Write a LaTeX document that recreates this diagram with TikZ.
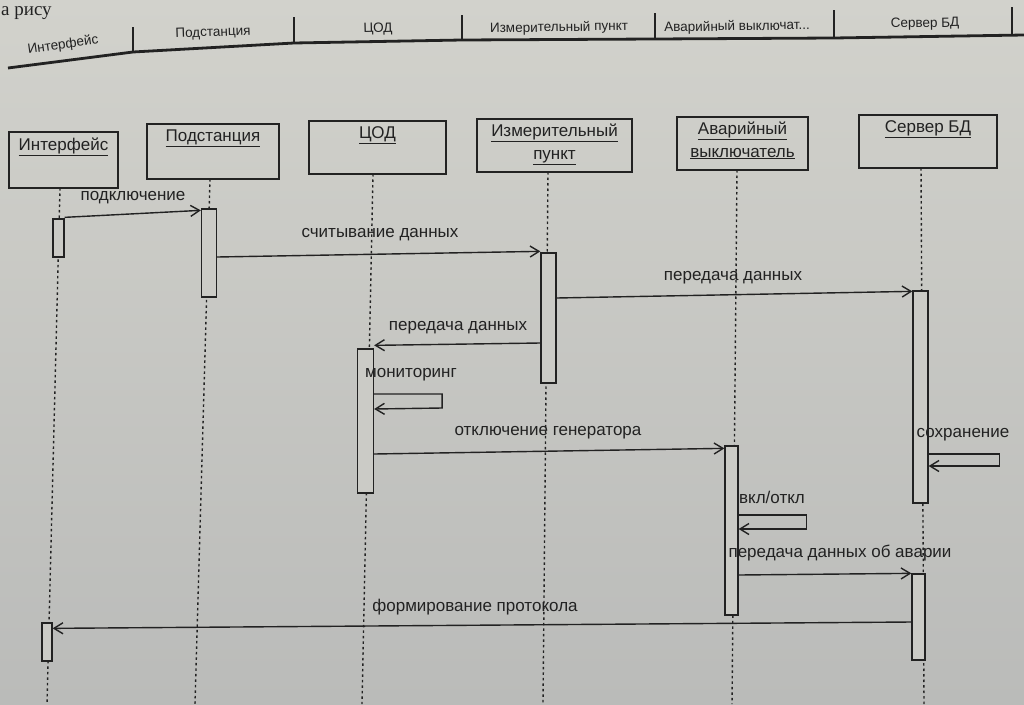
\documentclass[tikz,border=0pt]{standalone}
\usepackage{fontspec}
\setmainfont{Liberation Sans}
\newfontfamily\serifru{Liberation Serif}
\usetikzlibrary{arrows.meta,calc}
\definecolor{bgtop}{RGB}{210,210,204}
\definecolor{bgbot}{RGB}{186,187,185}
\definecolor{barfill}{RGB}{203,203,198}
\definecolor{ink}{RGB}{34,34,34}
\begin{document}
\begin{tikzpicture}[x=1pt,y=-1pt,
  headbox/.style={draw=ink,line width=1.4pt,inner sep=0pt,rectangle},
  hlab/.style={anchor=north,yshift=-6pt,inner sep=0pt,font=\fontsize{17}{23}\selectfont,align=center,text=ink},
  bar/.style={draw=ink,fill=barfill,line width=1.3pt,minimum width=13pt,inner sep=0pt,rectangle},
  msg/.style={draw=ink,line width=1.4pt,-{Straight Barb[length=9pt,width=11pt]}},
  lifeline/.style={draw=ink,line width=1.4pt,dash pattern=on 2.5pt off 3pt},
  mlab/.style={font=\fontsize{17}{20}\selectfont,text=ink,inner sep=0pt},
  hdr/.style={font=\fontsize{13.5}{16}\selectfont,text=ink,inner sep=0pt},
  sep/.style={draw=ink,line width=1.4pt}
]
% background
\useasboundingbox (0,0) rectangle (1024,704);
\shade[top color=bgtop,bottom color=bgbot] (0,0) rectangle (1024,704);

% page text fragment
\node[anchor=base west,inner sep=0pt,font=\serifru\fontsize{19}{22}\selectfont,text=ink] (pagetxt) at (1,15) {а рису};

% header bar
\draw[ink,line width=2.8pt] (8,68) -- (133,52) -- (294,43) -- (462,40) -- (655,39) -- (834,38) -- (1024,35);
\draw[sep] (133,52) -- (133,27);
\draw[sep] (294,43) -- (294,17);
\draw[sep] (462,40) -- (462,15);
\draw[sep] (655,39) -- (655,13);
\draw[sep] (834,38) -- (834,10);
\draw[sep] (1012,35) -- (1012,7);
\node[hdr,rotate=8] (gI) at (63,45) {Интерфейс};
\node[hdr,rotate=2] (gP) at (213,33) {Подстанция};
\node[hdr,rotate=1.5] (gC) at (378,29) {ЦОД};
\node[hdr,rotate=1] (gM) at (559,28) {Измерительный пункт};
\node[hdr,rotate=1] (gA) at (737,27) {Аварийный выключат...};
\node[hdr,rotate=1] (gS) at (925,24) {Сервер БД};

% lifelines
\coordinate (tI) at (60,188);  \coordinate (bI) at (47,704);
\coordinate (tP) at (210,179); \coordinate (bP) at (195,704);
\coordinate (tC) at (373,174); \coordinate (bC) at (362,704);
\coordinate (tM) at (548,172); \coordinate (bM) at (543,704);
\coordinate (tA) at (737,170); \coordinate (bA) at (732,704);
\coordinate (tS) at (921,168); \coordinate (bS) at (924,704);
\foreach \l in {I,P,C,M,A,S} { \draw[lifeline] (t\l) -- (b\l); }

% heads
\node[headbox,minimum width=109pt,minimum height=56pt,label={[hlab]north:{\underline{Интерфейс}}}] (hI) at (63.5,160) {};
\node[headbox,minimum width=132pt,minimum height=55pt,label={[hlab]north:{\underline{Подстанция}}}] (hP) at (213,151.5) {};
\node[headbox,minimum width=137pt,minimum height=53pt,label={[hlab]north:{\underline{ЦОД}}}] (hC) at (377.5,147.5) {};
\node[headbox,minimum width=155pt,minimum height=53pt,label={[hlab,yshift=1pt]north:{\underline{Измерительный}\\\underline{пункт}}}] (hM) at (554.5,145.5) {};
\node[headbox,minimum width=131pt,minimum height=53pt,label={[hlab,yshift=1pt]north:{\underline{Аварийный}\\\underline{выключатель}}}] (hA) at (742.5,143.5) {};
\node[headbox,minimum width=138pt,minimum height=53pt,label={[hlab]north:{\underline{Сервер БД}}}] (hS) at (928,141.5) {};

% activation bars
\node[bar,minimum width=11pt,minimum height=38pt] (aI1) at (58.5,238) {};
\node[bar,minimum width=10pt,minimum height=38pt] (aI2) at (47,642) {};
\node[bar,minimum width=15pt,minimum height=88pt] (aP) at (209,253) {};
\node[bar,minimum width=15pt,minimum height=130pt] (aM) at (548.5,318) {};
\node[bar,minimum width=16pt,minimum height=144pt] (aC) at (365.5,421) {};
\node[bar,minimum width=13pt,minimum height=169pt] (aA) at (731.5,530.5) {};
\node[bar,minimum width=15pt,minimum height=212pt] (aS1) at (920.5,397) {};
\node[bar,minimum width=13pt,minimum height=86pt] (aS2) at (918.5,617) {};

% messages
\draw[msg] ([yshift=1pt]aI1.north east) -- ([yshift=-2pt]aP.north west);
\draw[msg] ([yshift=-4pt]aP.east) -- ([yshift=1pt]aM.north west);
\draw[msg] ([yshift=20pt]aM.east) -- ([yshift=-1pt]aS1.north west);
\draw[msg] ([yshift=-25pt]aM.west) -- ([yshift=3pt]aC.north east);
\draw[msg] ([yshift=27pt]aC.east) -- ++(68,0) -- ++(0,14) -- ([yshift=12pt]aC.east);
\draw[msg] ([yshift=-33pt]aC.east) -- ([yshift=-3pt]aA.north west);
\draw[msg] ([yshift=-57pt]aS1.east) -- ++(71,0) -- ++(0,12) -- ([yshift=-69pt]aS1.east);
\draw[msg] ([yshift=15.5pt]aA.east) -- ++(68,0) -- ++(0,14) -- ([yshift=1.5pt]aA.east);
\draw[msg] ([yshift=-44.5pt]aA.east) -- ([yshift=0pt]aS2.north west);
\draw[msg] ([yshift=-5pt]aS2.west) -- ([yshift=-6pt]aI2.north east);

% message labels
\node[mlab] (l1) at (133,198) {подключение};
\node[mlab] (l2) at (380,235) {считывание данных};
\node[mlab] (l3) at (733,278) {передача данных};
\node[mlab] (l4) at (458,328) {передача данных};
\node[mlab] (l5) at (411,375) {мониторинг};
\node[mlab] (l6) at (548,433) {отключение генератора};
\node[mlab] (l7) at (963,435) {сохранение};
\node[mlab] (l8) at (772,497) {вкл/откл};
\node[mlab] (l9) at (840,553) {передача данных об аварии};
\node[mlab] (l10) at (475,607) {формирование протокола};
\end{tikzpicture}
\end{document}
